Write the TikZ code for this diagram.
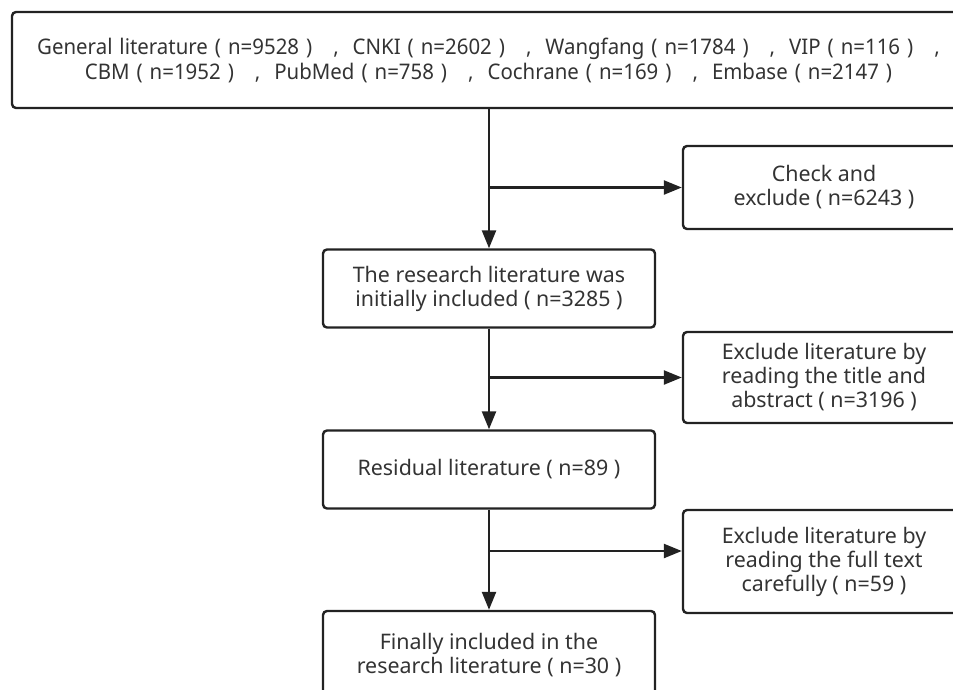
\documentclass[tikz,border=0pt]{standalone}
\usepackage{fontspec}
\setmainfont{Noto Sans}
\newfontfamily\narrowfont[FakeStretch=0.95]{Noto Sans}
\usetikzlibrary{arrows.meta,calc}

\definecolor{linec}{HTML}{222222}
\definecolor{textc}{HTML}{333333}
% wider word spaces of the source line
\newcommand{\widesp}{\spaceskip=7pt\relax}

\begin{document}
\begin{tikzpicture}[
  x=1pt,y=-1pt,
  arr/.style={-{Triangle[length=18pt,width=14pt]},line width=2.4pt,draw=linec},
  every node/.style={align=center,text=textc,font=\fontsize{21.4}{24}\selectfont},
  box/.style={rectangle,draw=linec,line width=2.4pt,rounded corners=4pt,inner sep=0pt},
  mainbox/.style={box,minimum width=332pt,minimum height=78pt},
  sidebox/.style={box,minimum width=282pt}
]
\useasboundingbox (0,0) rectangle (953,689);
\clip (0,0) rectangle (953,689);
% boxes
\node[box,minimum width=953pt,minimum height=96pt,font=\narrowfont\fontsize{21.5}{25}\selectfont] (src) at (488.5,60)
  {\widesp General literature ( n=9528 )\ \ \ ,\ \ CNKI ( n=2602 )\ \ \ ,\ \ Wangfang ( n=1784 )\ \ \ ,\ \ VIP ( n=116 )\ \ \ ,\\
   \widesp CBM ( n=1952 )\ \ \ ,\ \ PubMed ( n=758 )\ \ \ ,\ \ Cochrane ( n=169 )\ \ \ ,\ \ Embase ( n=2147 )};
\node[sidebox,minimum height=83pt] (chk) at (824,187.5) {Check and\\exclude ( n=6243 )};
\node[mainbox] (init) at (489,288.5) {The research literature was\\initially included ( n=3285 )};
\node[sidebox,minimum height=91pt] (ex1) at (824,377.5) {Exclude literature by\\reading the title and\\abstract ( n=3196 )};
\node[mainbox] (resid) at (489,469.5) {Residual literature ( n=89 )};
\node[sidebox,minimum height=103pt] (ex2) at (824,561.5) {Exclude literature by\\reading the full text\\carefully ( n=59 )};
\node[mainbox,minimum height=88pt] (fin) at (489,655) {Finally included in the\\research literature ( n=30 )};
% connectors
\draw[arr] (init.north |- src.south) -- (init.north);
\draw[arr] (init.north |- chk.west) -- (chk.west);
\draw[arr] (init.south) -- (resid.north);
\draw[arr] (init.south |- ex1.west) -- (ex1.west);
\draw[arr] (resid.south) -- (fin.north);
\draw[arr] ($(resid.south |- ex2.west)+(0,-10.5)$) -- ($(ex2.west)+(0,-10.5)$);
\end{tikzpicture}
\end{document}
